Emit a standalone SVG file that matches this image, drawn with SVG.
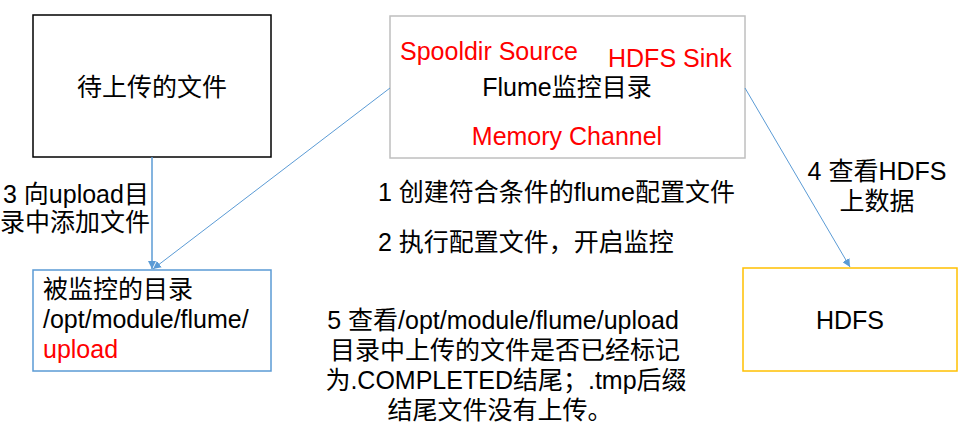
<svg xmlns="http://www.w3.org/2000/svg" width="962" height="424" viewBox="0 0 962 424">
<defs>
<style>
text{font-family:"Liberation Sans","Noto Sans CJK SC",sans-serif;font-size:25px;fill:#000}
.red{fill:#FF0000}
.mid{text-anchor:middle}
.box{fill:#fff;stroke-width:1.5}
.conn{stroke:#5B9BD5;fill:none}
</style>
<marker id="arr" viewBox="0 0 10 10" refX="10" refY="5" markerWidth="8" markerHeight="8" markerUnits="userSpaceOnUse" orient="auto">
<path d="M0,0 L10,5 L0,10 z" fill="#5B9BD5"/>
</marker>
</defs>
<rect width="962" height="424" fill="#fff"/>
<g id="node-files">
<rect class="box" x="33" y="15" width="238" height="142" stroke="#000"/>
<text class="mid" x="152" y="96">待上传的文件</text>
</g>
<g id="node-watched">
<rect class="box" x="33" y="270" width="238" height="101" stroke="#5B9BD5"/>
<text x="43" y="298">被监控的目录</text>
<text x="43" y="328">/opt/module/flume/</text>
<text class="red" x="43" y="358">upload</text>
</g>
<g id="node-flume">
<rect class="box" x="390" y="16" width="355" height="142" stroke="#BFBFBF"/>
<text class="red" x="400" y="60">Spooldir Source</text>
<text class="red" x="608" y="67">HDFS Sink</text>
<text class="mid" x="567" y="96">Flume监控目录</text>
<text class="red mid" x="567" y="145">Memory Channel</text>
</g>
<g id="node-hdfs">
<rect class="box" x="743" y="268" width="214" height="103" stroke="#FFC000"/>
<text class="mid" x="850" y="329">HDFS</text>
</g>
<g id="connectors">
<line class="conn" x1="152" y1="157" x2="152" y2="269" stroke-width="1.5" marker-end="url(#arr)"/>
<line class="conn" x1="390" y1="88" x2="153" y2="269" stroke-width="1" marker-end="url(#arr)"/>
<line class="conn" x1="745" y1="88" x2="850" y2="267" stroke-width="1" marker-end="url(#arr)"/>
</g>
<g id="labels">
<text x="3" y="203">3 向upload目</text>
<text x="0" y="231">录中添加文件</text>
<text class="mid" x="877" y="180">4 查看HDFS</text>
<text class="mid" x="877" y="210">上数据</text>
<text x="378" y="201">1 创建符合条件的flume配置文件</text>
<text x="378" y="251">2 执行配置文件，开启监控</text>
<text class="mid" x="503" y="329">5 查看/opt/module/flume/upload</text>
<text class="mid" x="505" y="359">目录中上传的文件是否已经标记</text>
<text class="mid" x="506" y="389">为.COMPLETED结尾；.tmp后缀</text>
<text class="mid" x="500" y="419">结尾文件没有上传。</text>
</g>
</svg>
